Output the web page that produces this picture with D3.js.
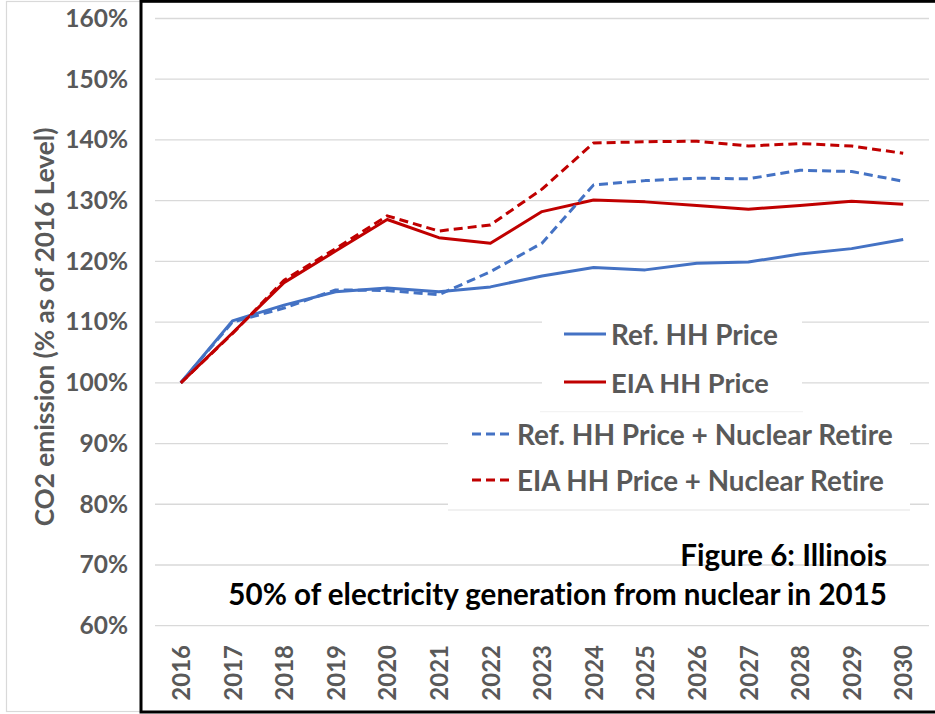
<!DOCTYPE html>
<html>
<head>
<meta charset="utf-8">
<script src="https://cdn.jsdelivr.net/npm/d3@7"></script>
<style>
  body { margin: 0; background: #fff; }
  svg { display: block; }
  text { font-variant-ligatures: none; }
</style>
</head>
<body>
<div id="chart"></div>
<script>
const WIDTH = 935;
const HEIGHT = 714;

// values (% of 2016 level)
const years = [2016, 2017, 2018, 2019, 2020, 2021, 2022, 2023, 2024, 2025, 2026, 2027, 2028, 2029, 2030];
const refHH = [100, 110.2, 112.8, 115.0, 115.6, 115.0, 115.8, 117.6, 119.0, 118.6, 119.7, 119.9, 121.2, 122.1, 123.6];
const eiaHH = [100, 108.2, 116.5, 121.7, 126.9, 123.9, 123.0, 128.2, 130.1, 129.8, 129.2, 128.6, 129.2, 129.9, 129.4];
const refNuc = [100, 110.0, 112.3, 115.3, 115.2, 114.5, 118.3, 123.0, 132.6, 133.3, 133.7, 133.6, 135.0, 134.8, 133.2];
const eiaNuc = [100, 108.1, 116.9, 122.1, 127.5, 125.0, 126.0, 131.9, 139.5, 139.7, 139.8, 139.0, 139.4, 139.0, 137.8];
const yTicks = [60, 70, 80, 90, 100, 110, 120, 130, 140, 150, 160];

const seriesNames = ["Ref. HH Price", "EIA HH Price", "Ref. HH Price + Nuclear Retire", "EIA HH Price + Nuclear Retire"];
const seriesValues = [refHH, eiaHH, refNuc, eiaNuc];

const BLUE = "#4472c4";
const RED = "#c00000";
const styles = [
    {color: BLUE, dash: null},
    {color: RED, dash: null},
    {color: BLUE, dash: "9,5"},
    {color: RED, dash: "9,5"}
];

const FONT = "Lato, 'Open Sans', sans-serif";
const GRAY = "#595959";

function fitText(sel, target){
    let w = sel.node().getComputedTextLength();
    let fs = parseFloat(sel.attr("font-size"));
    sel.attr("font-size", fs * target / w);
}

function main(){
    let svg = d3.select("#chart")
        .append("svg")
        .attr("width",WIDTH)
        .attr("height",HEIGHT)
        .style("font-family",FONT);

    svg.append("rect").attr("width",WIDTH).attr("height",HEIGHT).attr("fill","#fff");

    // outer light border of the chart object
    svg.append("rect")
        .attr("x",6.5).attr("y",1.5)
        .attr("width",940).attr("height",710)
        .attr("fill","none")
        .attr("stroke","#d9d9d9")
        .attr("stroke-width",1.2);

    let x = d3.scalePoint()
        .domain(years)
        .range([155,929])
        .padding(0.5);
    let y = d3.scaleLinear()
        .domain([60,160])
        .range([625.7,18.5]);

    // gridlines
    svg.append("g")
        .selectAll("line")
        .data(yTicks)
        .enter()
        .append("line")
        .attr("x1",155).attr("x2",929)
        .attr("y1",d => y(d)).attr("y2",d => y(d))
        .attr("stroke","#d9d9d9")
        .attr("stroke-width",1.3);

    // y axis labels
    let yAxis = d3.axisLeft(y).tickValues(yTicks).tickFormat(d => d + "%").tickSize(0).tickPadding(0);
    let yg = svg.append("g").attr("transform","translate(128,0)").call(yAxis);
    yg.select(".domain").remove();
    yg.selectAll("text")
        .attr("fill",GRAY)
        .attr("font-size",24.5)
        .attr("font-weight","bold")
        .attr("font-family",FONT);

    // x axis labels, rotated
    let xAxis = d3.axisBottom(x).tickSize(0);
    let xg = svg.append("g").attr("transform","translate(0,645)").call(xAxis);
    xg.select(".domain").remove();
    xg.selectAll("text")
        .attr("fill",GRAY)
        .attr("font-size",24)
        .attr("font-weight","bold")
        .attr("font-family",FONT)
        .attr("text-anchor","end")
        .attr("transform","rotate(-90)")
        .attr("x",0)
        .attr("y",0)
        .attr("dy","0.36em");

    // y axis title
    let ytitle = svg.append("text")
        .attr("transform","translate(45,327) rotate(-90)")
        .attr("text-anchor","middle")
        .attr("dy","0.36em")
        .attr("fill",GRAY)
        .attr("font-size",26)
        .attr("font-weight","bold")
        .text("CO2 emission (% as of 2016 Level)");
    fitText(ytitle,399);

    // series
    let line = d3.line()
        .x((d,i) => x(years[i]))
        .y(d => y(d));
    svg.append("g")
        .selectAll("path")
        .data(seriesValues)
        .enter()
        .append("path")
        .attr("d",line)
        .attr("fill","none")
        .attr("stroke",(d,i) => styles[i].color)
        .attr("stroke-dasharray",(d,i) => styles[i].dash)
        .attr("stroke-width",3)
        .attr("stroke-linejoin","round");

    // legend
    let legend = svg.append("g");
    legend.append("rect").attr("x",542).attr("y",306).attr("width",260).attr("height",106).attr("fill","#fff");
    legend.append("rect").attr("x",448).attr("y",412).attr("width",462).attr("height",98).attr("fill","#fff");
    legend.append("line").attr("x1",540).attr("x2",803).attr("y1",411.7).attr("y2",411.7)
        .attr("stroke","#f0f0f0").attr("stroke-width",1);
    legend.append("line").attr("x1",448).attr("x2",910).attr("y1",510).attr("y2",510)
        .attr("stroke","#e3e3e3").attr("stroke-width",1.2);

    const legendRows = [
        {x1: 564, x2: 606, tx: 611, y: 334, w: 167},
        {x1: 564, x2: 606, tx: 611, y: 382, w: 158},
        {x1: 472, x2: 509, tx: 517, y: 434, w: 376},
        {x1: 472, x2: 509, tx: 517, y: 480, w: 367}
    ];
    legendRows.forEach((r,i) => {
        legend.append("line")
            .attr("x1",r.x1).attr("x2",r.x2)
            .attr("y1",r.y).attr("y2",r.y)
            .attr("stroke",styles[i].color)
            .attr("stroke-dasharray",styles[i].dash)
            .attr("stroke-width",3);
        let t = legend.append("text")
            .attr("x",r.tx).attr("y",r.y + 1)
            .attr("dy","0.36em")
            .attr("fill",GRAY)
            .attr("font-size",27)
            .attr("font-weight","bold")
            .text(seriesNames[i]);
        fitText(t,r.w);
    });

    // caption inside plot
    let t1 = svg.append("text")
        .attr("x",887).attr("y",566)
        .attr("text-anchor","end")
        .attr("fill","#000")
        .attr("font-size",28)
        .attr("font-weight","bold")
        .text("Figure 6: Illinois");
    let t2 = svg.append("text")
        .attr("x",887).attr("y",605)
        .attr("text-anchor","end")
        .attr("fill","#000")
        .attr("font-size",28)
        .attr("font-weight","bold")
        .text("50% of electricity generation from nuclear in 2015");
    fitText(t2,659);
    t1.attr("font-size",t2.attr("font-size"));

    // black frame
    svg.append("rect")
        .attr("x",141).attr("y",1.3)
        .attr("width",900).attr("height",710.7)
        .attr("fill","none")
        .attr("stroke","#000")
        .attr("stroke-width",3);
}

window.addEventListener("load",main);
</script>
</body>
</html>
